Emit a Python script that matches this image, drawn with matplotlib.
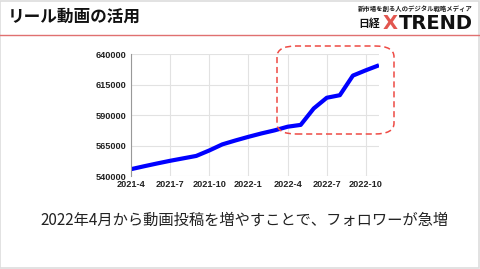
import matplotlib.pyplot as plt
from matplotlib.patches import FancyBboxPatch
from matplotlib.lines import Line2D

months = ['2021-4', '2021-5', '2021-6', '2021-7', '2021-8', '2021-9', '2021-10',
          '2021-11', '2021-12', '2022-1', '2022-2', '2022-3', '2022-4', '2022-5',
          '2022-6', '2022-7', '2022-8', '2022-9', '2022-10', '2022-11']
followers = [545600, 548000, 550300, 552500, 554500, 556500, 561000,
             566000, 569200, 572200, 575000, 577500, 580500, 582000,
             595500, 604300, 606400, 622500, 626900, 631000]
tick_labels = ['2021-4', '2021-7', '2021-10', '2022-1', '2022-4', '2022-7', '2022-10']
y_ticks = [540000, 565000, 590000, 615000, 640000]

jp = ['Noto Sans CJK JP', 'DejaVu Sans']

fig = plt.figure(figsize=(4.8, 2.69), dpi=100)
fig.patch.set_facecolor('white')

# header
fig.text(8/480, 1 - 17/269, 'リール動画の活用', family=jp, fontsize=12,
         fontweight='bold', va='center', ha='left', color='#111111')
fig.text(473/480, 1 - 8/269, '新市場を創る人のデジタル戦略メディア', family=jp,
         fontsize=4.6, fontweight='bold', ha='right', va='center', color='#222222')
fig.text(358/480, 1 - 24/269, '日経', family=jp, fontsize=7.8, fontweight='bold',
         ha='left', va='center', color='#111111')
fig.text(383/480, 1 - 23.5/269, 'X', family='DejaVu Sans', fontsize=14,
         fontweight='bold', ha='left', va='center', color='#e2564f')
fig.text(473/480, 1 - 23.5/269, 'TREND', family='DejaVu Sans', fontsize=14,
         fontweight='bold', ha='right', va='center', color='#111111')
fig.add_artist(Line2D([0, 1], [1 - 34.5/269, 1 - 34.5/269], color='#e07070', lw=1.0))

# frame around the slide
fig.add_artist(FancyBboxPatch((0.001, 0.002), 0.997, 0.995, boxstyle='square,pad=0',
                              fill=False, ec='#dddddd', lw=1.2))

ax = fig.add_axes([131/480, 1 - 176/269, 248/480, 121.7/269])
x = list(range(len(months)))
ax.plot(x, followers, color='#0000ff', lw=3.0, solid_joinstyle='round',
        solid_capstyle='butt')
ax.set_xlim(0, len(months) - 1)
ax.set_ylim(540000, 640000)
ax.set_yticks(y_ticks)
ax.set_yticklabels([str(v) for v in y_ticks])
ax.set_xticks([months.index(t) for t in tick_labels])
ax.set_xticklabels(tick_labels)
ax.grid(True, color='#e2e2e2', lw=0.8)
ax.set_axisbelow(True)
for s in ['top', 'right', 'bottom']:
    ax.spines[s].set_visible(False)
ax.spines['left'].set_color('#999999')
ax.spines['left'].set_linewidth(0.8)
ax.tick_params(length=0, pad=3, labelsize=6.6, labelcolor='#222222')
for lbl in ax.get_xticklabels() + ax.get_yticklabels():
    lbl.set_family('Liberation Sans')
    lbl.set_fontweight('bold')

# highlight box
fig.add_artist(FancyBboxPatch((277/480, 1 - 134/269), 117/480, 88/269,
                              boxstyle='round,pad=0,rounding_size=0.04',
                              fill=False, ec='#ee4a44', lw=1.1, ls=(0, (4, 2.5))))

fig.text(245/480, 1 - 220/269, '2022年4月から動画投稿を増やすことで、フォロワーが急増',
         family=jp, fontsize=11, ha='center', va='center', color='#222222')

fig.savefig('out.png', dpi=100)
